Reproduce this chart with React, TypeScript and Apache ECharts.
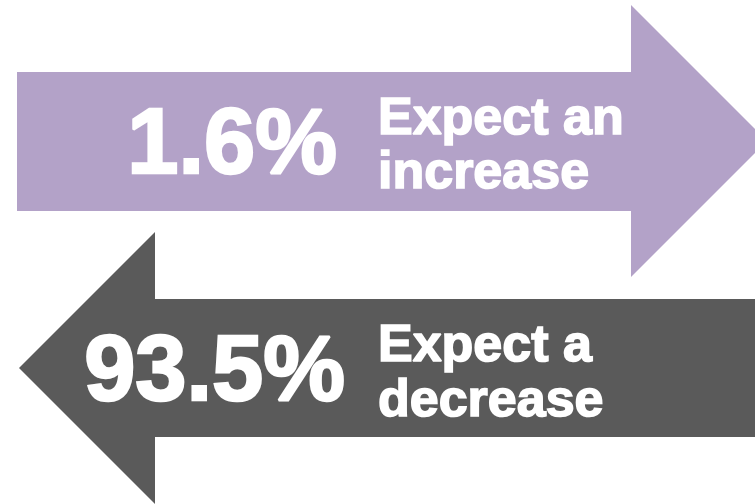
import React, { useEffect, useRef } from "react";
import * as echarts from "echarts";

const categories = ["increase", "decrease"];
const shares = [1.6, 93.5];
const lineOne = ["Expect an", "Expect a"];
const lineTwo = ["increase", "decrease"];
const colors = ["#B3A2C8", "#5A5A5A"];

const FONT = "'Liberation Sans', Arial, sans-serif";

export default function App() {
  const ref = useRef<HTMLDivElement>(null);
  useEffect(() => {
    if (!ref.current) return;
    const chart = echarts.init(ref.current, null, { renderer: "svg" });
    const renderItem = (params: any, api: any) => {
      const i = params.dataIndex;
      const v = api.value(1);
      const pct = v.toFixed(1) + "%";
      let shape: number[][];
      let numX: number, numY: number, txtX: number, l1Y: number, l2Y: number;
      if (i === 0) {
        shape = [[17, 72], [631, 72], [631, 5], [767, 141], [631, 277], [631, 211], [17, 211]];
        numX = 337; numY = 141; txtX = 378; l1Y = 116; l2Y = 170;
      } else {
        shape = [[770, 299], [155, 299], [155, 232], [19, 368], [155, 504], [155, 437], [770, 437]];
        numX = 345; numY = 368; txtX = 378; l1Y = 343; l2Y = 398;
      }
      const txt = (text: string, x: number, y: number, size: number, align: string) => ({
        type: "text",
        style: {
          text, x, y, fill: "#fff", stroke: "#fff", lineWidth: size > 60 ? 2.5 : 1.6,
          fontSize: size, fontWeight: "bold", fontFamily: FONT, align, verticalAlign: "middle",
        },
      });
      return {
        type: "group",
        children: [
          { type: "polygon", shape: { points: shape }, style: { fill: colors[i] } },
          txt(pct, numX, numY, 92, "right"),
          txt(lineOne[i], txtX, l1Y, 52, "left"),
          txt(lineTwo[i], txtX, l2Y, 52, "left"),
        ],
      };
    };
    chart.setOption({
      animation: false,
      grid: { left: 0, right: 0, top: 0, bottom: 0 },
      xAxis: { type: "category", data: categories, show: false },
      yAxis: { type: "value", show: false, min: 0, max: 100 },
      series: [
        {
          type: "custom",
          renderItem,
          data: shares.map((s, i) => [i, s]),
        },
      ],
    });
    return () => chart.dispose();
  }, []);
  return <div ref={ref} style={{ position: "fixed", left: 0, top: 0, width: 755, height: 504, background: "#fff" }} />;
}
